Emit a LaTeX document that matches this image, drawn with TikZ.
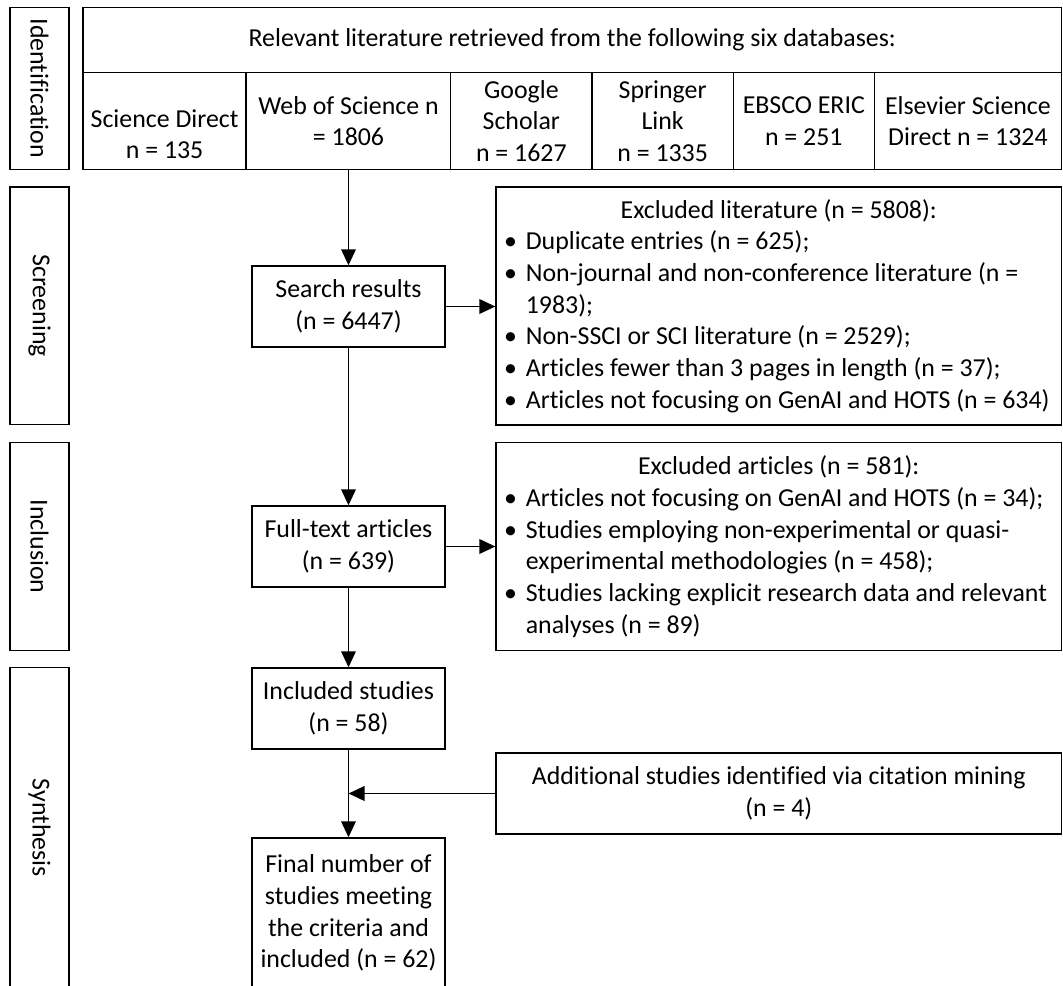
\documentclass[tikz,border=0pt]{standalone}
\usepackage{fontspec}
\setmainfont{Carlito}[Ligatures=NoCommon]
\usetikzlibrary{arrows.meta}
\setlength{\parindent}{0pt}
\newcommand{\blt}{\makebox[16.3pt][l]{\textbullet}}
\newcommand{\cnt}{\hspace*{16.3pt}}

\tikzset{every picture/.style={line width=1.1pt}}
\tikzset{
  txt/.style={font=\fontsize{19.4pt}{23.8pt}\selectfont},
  cell/.style={txt, draw, rectangle, align=center, inner sep=0pt},
  side/.style={cell, rotate=-90, minimum height=44.25pt},
  flow/.style={cell, minimum width=144.75pt, minimum height=60.75pt},
  listbox/.style={txt, draw, rectangle, align=flush left, inner xsep=6pt, inner ysep=0pt, text width=412pt},
  arr/.style={-{Triangle[length=12pt,width=11pt]}}
}

\begin{document}
\begin{tikzpicture}[x=0.75pt,y=0.75pt,yscale=-1,xscale=1]
\useasboundingbox (0,0) rectangle (1063,985);
\clip (0,0) rectangle (1063,985);
%Shape: Stage labels
\node[side, minimum width=121.65pt] (idlab) at (39.5,88.4) {Identification};
\node[side, minimum width=178.1pt] (scrlab) at (39.5,305.75) {Screening};
\node[side, minimum width=156pt] (inclab) at (39.5,546.5) {Inclusion};
\node[side, minimum width=240.4pt] (synlab) at (39.5,827.75) {Synthesis};
%Shape: Databases table
\node[cell, minimum width=733.9pt, minimum height=49.05pt] (hdr) at (572.25,40) {Relevant literature retrieved from the following six databases:};
\node[cell, minimum width=122.4pt, minimum height=72.6pt] (sd) at (164.6,121.1) {\mbox{}\\[9pt]Science Direct\\n = 135};
\node[cell, minimum width=153.3pt, minimum height=72.6pt] (wos) at (348.5,121.1) {Web of Science n\\= 1806};
\node[cell, minimum width=106pt, minimum height=72.6pt] (gs) at (521.35,121.1) {Google\\Scholar\\n = 1627};
\node[cell, minimum width=106pt, minimum height=72.6pt] (sl) at (662.65,121.1) {Springer\\Link\\n = 1335};
\node[cell, minimum width=105.75pt, minimum height=72.6pt] (eric) at (803.8,121.1) {EBSCO ERIC\\n = 251};
\node[cell, minimum width=140.4pt, minimum height=72.6pt] (esd) at (967.9,121.1) {Elsevier Science\\Direct n = 1324};
%Shape: Flow boxes
\node[flow] (search) at (348.5,306.5) {Search results\\(n = 6447)};
\node[flow] (fulltext) at (348.5,546.5) {Full-text articles\\(n = 639)};
\node[flow] (included) at (348.5,708.5) {Included studies\\(n = 58)};
\node[flow, minimum height=112.5pt] (final) at (348.5,913) {Final number of\\studies meeting\\the criteria and\\included (n = 62)};
%Shape: Exclusion boxes
\node[listbox, minimum height=178.5pt] (exlit) at (778.75,306) {%
{\centering Excluded literature (n = 5808):\par}
\mbox{\blt Duplicate entries (n = 625);}\par
\mbox{\blt Non-journal and non-conference literature (n =}\par
\mbox{\cnt 1983);}\par
\mbox{\blt Non-SSCI or SCI literature (n = 2529);}\par
\mbox{\blt Articles fewer than 3 pages in length (n = 37);}\par
\mbox{\blt Articles not focusing on GenAI and HOTS (n = 634)}};
\node[listbox, minimum height=156pt] (exart) at (778.75,546.5) {%
{\centering Excluded articles (n = 581):\par}
\mbox{\blt Articles not focusing on GenAI and HOTS (n = 34);}\par
\mbox{\blt Studies employing non-experimental or quasi-}\par
\mbox{\cnt experimental methodologies (n = 458);}\par
\mbox{\blt Studies lacking explicit research data and relevant}\par
\mbox{\cnt analyses (n = 89)}};
\node[cell, minimum width=424.1pt, minimum height=60.75pt] (addl) at (778.75,793.5) {Additional studies identified via citation mining\\(n = 4)};
%Straight Lines
\draw[arr] (wos.south) -- (search.north);
\draw[arr] (search.south) -- (fulltext.north);
\draw[arr] (fulltext.south) -- (included.north);
\draw[arr] (included.south) -- (final.north);
\draw[arr] (search.east) -- (search.east -| exlit.west);
\draw[arr] (fulltext.east) -- (fulltext.east -| exart.west);
\coordinate (join) at (included.south |- addl.west);
\draw[arr] (addl.west) -- (join);
\end{tikzpicture}
\end{document}
